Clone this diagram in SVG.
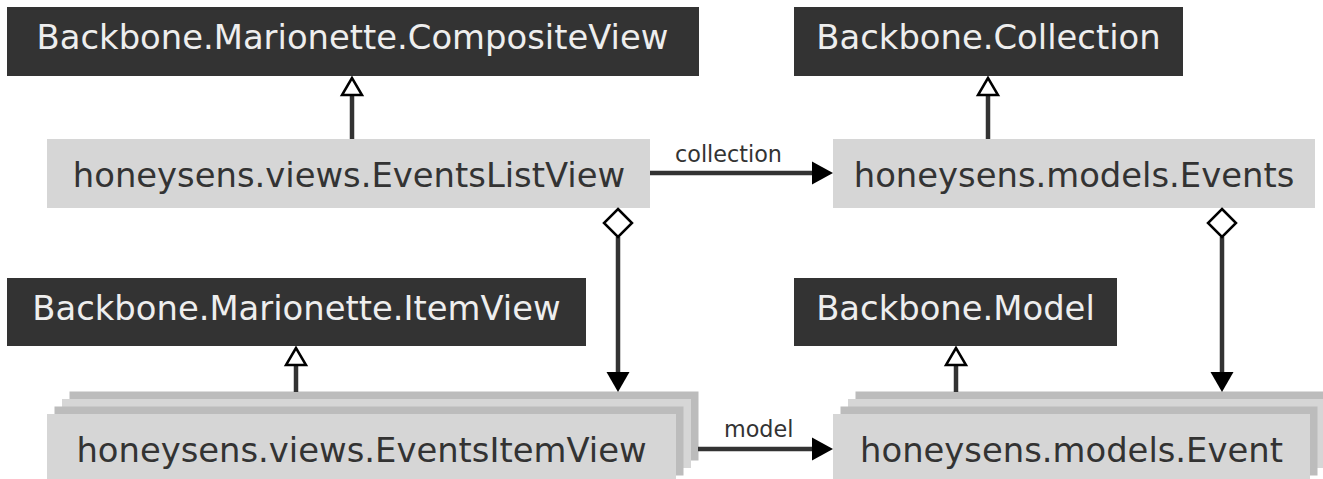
<svg xmlns="http://www.w3.org/2000/svg" width="1323" height="479" viewBox="0 0 1323 479">
<style>
.dark rect{fill:#333333}
.dark text{fill:#eeeeee}
.light rect{fill:#d6d6d6}
.light text{fill:#333333}
.stack .s1{fill:#bcbcbc}
.stack .s2{fill:#d6d6d6}
text{font-family:"DejaVu Sans","Noto Sans",sans-serif;font-size:33.8px;text-anchor:middle}
.lbl{font-size:22.3px;fill:#333333;text-anchor:start}
.ln{stroke:#333333;stroke-width:4.5;fill:none}
.tri{fill:#ffffff;stroke:#000000;stroke-width:2.5;stroke-linejoin:miter}
.dia{fill:#ffffff;stroke:#000000;stroke-width:2.5}
.ah{fill:#000000}
</style>
<rect width="1323" height="479" fill="#ffffff"/>
<g id="composite-view" class="dark">
<rect x="7" y="7" width="692" height="69"/>
<text x="352.5" y="49">Backbone.Marionette.CompositeView</text>
</g>
<g id="backbone-collection" class="dark">
<rect x="794" y="7" width="389" height="69"/>
<text x="988.5" y="49">Backbone.Collection</text>
</g>
<g id="events-list-view" class="light">
<rect x="47" y="139" width="603" height="69"/>
<text x="349" y="187">honeysens.views.EventsListView</text>
</g>
<g id="models-events" class="light">
<rect x="833" y="139" width="482" height="69"/>
<text x="1074" y="187">honeysens.models.Events</text>
</g>
<g id="item-view" class="dark">
<rect x="7" y="278" width="579" height="68"/>
<text x="296.5" y="320">Backbone.Marionette.ItemView</text>
</g>
<g id="backbone-model" class="dark">
<rect x="794" y="278" width="323" height="68"/>
<text x="955.5" y="320">Backbone.Model</text>
</g>
<g id="events-item-view" class="light stack">
<rect class="s1" x="69.5" y="391.5" width="629" height="69"/>
<rect class="s2" x="62" y="399" width="629" height="69"/>
<rect class="s1" x="54.5" y="406.5" width="629" height="69"/>
<rect x="47" y="414" width="629" height="69"/>
<text x="361.5" y="462">honeysens.views.EventsItemView</text>
</g>
<g id="models-event" class="light stack">
<rect class="s1" x="855.5" y="391.5" width="477" height="69"/>
<rect class="s2" x="848" y="399" width="477" height="69"/>
<rect class="s1" x="840.5" y="406.5" width="477" height="69"/>
<rect x="833" y="414" width="477" height="69"/>
<text x="1071.5" y="462">honeysens.models.Event</text>
</g>
<g id="connectors">
<line class="ln" x1="352" y1="139" x2="352" y2="94"/>
<polygon class="tri" points="352,78 342,95 362,95"/>
<line class="ln" x1="988" y1="139" x2="988" y2="94"/>
<polygon class="tri" points="988,78 978,95 998,95"/>
<line class="ln" x1="296" y1="392" x2="296" y2="364"/>
<polygon class="tri" points="296,348 286,365 306,365"/>
<line class="ln" x1="956" y1="392" x2="956" y2="364"/>
<polygon class="tri" points="956,348 946,365 966,365"/>
<line class="ln" x1="650" y1="173" x2="813" y2="173"/>
<polygon class="ah" points="812,161.5 833,173 812,184.5"/>
<text class="lbl" x="675" y="162">collection</text>
<line class="ln" x1="698" y1="449" x2="813" y2="449"/>
<polygon class="ah" points="812,437.5 833,449 812,460.5"/>
<text class="lbl" x="724" y="437">model</text>
<line class="ln" x1="618" y1="237" x2="618" y2="373"/>
<polygon class="dia" points="618,209 632,223 618,237 604,223"/>
<polygon class="ah" points="606.5,372 629.5,372 618,392"/>
<line class="ln" x1="1222" y1="237" x2="1222" y2="373"/>
<polygon class="dia" points="1222,209 1236,223 1222,237 1208,223"/>
<polygon class="ah" points="1210.5,372 1233.5,372 1222,392"/>
</g>
</svg>
